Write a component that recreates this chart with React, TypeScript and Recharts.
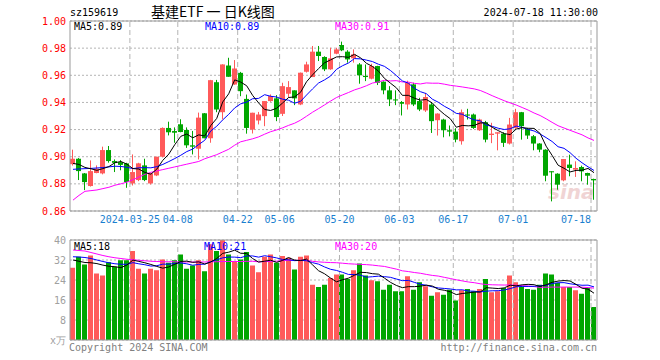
import React from 'react';
import { ComposedChart, Bar, Line, XAxis, YAxis, CartesianGrid, ReferenceLine } from 'recharts';

const dates = [
  '2024-03-11','2024-03-12','2024-03-13','2024-03-14','2024-03-15',
  '2024-03-18','2024-03-19','2024-03-20','2024-03-21','2024-03-22',
  '2024-03-25','2024-03-26','2024-03-27','2024-03-28','2024-03-29',
  '2024-04-01','2024-04-02','2024-04-03',
  '2024-04-08','2024-04-09','2024-04-10','2024-04-11','2024-04-12',
  '2024-04-15','2024-04-16','2024-04-17','2024-04-18','2024-04-19',
  '2024-04-22','2024-04-23','2024-04-24','2024-04-25','2024-04-26',
  '2024-04-29','2024-04-30',
  '2024-05-06','2024-05-07','2024-05-08','2024-05-09','2024-05-10',
  '2024-05-13','2024-05-14','2024-05-15','2024-05-16','2024-05-17',
  '2024-05-20','2024-05-21','2024-05-22','2024-05-23','2024-05-24',
  '2024-05-27','2024-05-28','2024-05-29','2024-05-30','2024-05-31',
  '2024-06-03','2024-06-04','2024-06-05','2024-06-06','2024-06-07',
  '2024-06-11','2024-06-12','2024-06-13','2024-06-14',
  '2024-06-17','2024-06-18','2024-06-19','2024-06-20','2024-06-21',
  '2024-06-24','2024-06-25','2024-06-26','2024-06-27','2024-06-28',
  '2024-07-01','2024-07-02','2024-07-03','2024-07-04','2024-07-05',
  '2024-07-08','2024-07-09','2024-07-10','2024-07-11','2024-07-12',
  '2024-07-15','2024-07-16','2024-07-17','2024-07-18',
];

const opens = [0.8945,0.8985,0.8877,0.8784,0.8880,0.8877,0.9049,0.8968,0.8960,0.8951,
  0.8803,0.8828,0.8936,0.8803,0.8862,0.9000,0.9212,0.9189,0.9239,0.9197,
  0.9084,0.9059,0.9320,0.9136,0.9549,0.9328,0.9672,0.9532,0.9618,0.9426,
  0.9200,0.9267,0.9299,0.9410,0.9430,0.9316,0.9464,0.9489,0.9385,0.9626,
  0.9587,0.9774,0.9735,0.9644,0.9759,0.9823,0.9774,0.9725,0.9680,0.9595,
  0.9575,0.9668,0.9553,0.9489,0.9422,0.9403,0.9385,0.9533,0.9410,0.9341,
  0.9385,0.9269,0.9274,0.9195,0.9185,0.9114,0.9311,0.9311,0.9195,0.9254,
  0.9160,0.9170,0.9170,0.9097,0.9212,0.9328,0.9205,0.9151,0.9097,0.9052,
  0.8893,0.8875,0.8826,0.8942,0.8905,0.8924,0.8880,0.8836];

const highs = [0.9052,0.8990,0.8880,0.8973,0.8936,0.9074,0.9079,0.8980,0.8975,0.8955,
  0.9017,0.8955,0.8985,0.8880,0.9000,0.9216,0.9258,0.9216,0.9276,0.9216,
  0.9190,0.9325,0.9322,0.9566,0.9566,0.9681,0.9729,0.9712,0.9625,0.9458,
  0.9324,0.9330,0.9410,0.9459,0.9454,0.9545,0.9557,0.9489,0.9620,0.9700,
  0.9816,0.9816,0.9740,0.9803,0.9803,0.9848,0.9785,0.9791,0.9690,0.9680,
  0.9685,0.9670,0.9555,0.9520,0.9489,0.9410,0.9560,0.9545,0.9434,0.9470,
  0.9397,0.9320,0.9280,0.9230,0.9210,0.9348,0.9353,0.9318,0.9280,0.9264,
  0.9250,0.9180,0.9180,0.9286,0.9353,0.9330,0.9210,0.9160,0.9100,0.9055,
  0.8893,0.8878,0.8983,0.9015,0.8966,0.8934,0.8882,0.8838];

const lows = [0.8935,0.8828,0.8754,0.8780,0.8878,0.8870,0.8956,0.8887,0.8900,0.8771,
  0.8788,0.8820,0.8820,0.8795,0.8857,0.8995,0.9157,0.9103,0.9180,0.9065,
  0.9017,0.8980,0.9136,0.9103,0.9328,0.9274,0.9589,0.9530,0.9446,0.9170,
  0.9171,0.9238,0.9225,0.9405,0.9262,0.9300,0.9434,0.9380,0.9380,0.9620,
  0.9587,0.9705,0.9631,0.9640,0.9755,0.9778,0.9693,0.9693,0.9538,0.9557,
  0.9570,0.9528,0.9460,0.9373,0.9380,0.9304,0.9348,0.9373,0.9336,0.9330,
  0.9175,0.9156,0.9143,0.9150,0.9106,0.9089,0.9274,0.9205,0.9190,0.9106,
  0.9100,0.9047,0.9072,0.9090,0.9205,0.9126,0.9131,0.9047,0.9033,0.8819,
  0.8671,0.8757,0.8819,0.8856,0.8851,0.8819,0.8794,0.8683];

const closes = [0.8985,0.8894,0.8813,0.8894,0.8912,0.9049,0.8968,0.8955,0.8940,0.8813,
  0.8887,0.8951,0.8828,0.8877,0.9000,0.9212,0.9180,0.9177,0.9182,0.9084,
  0.9074,0.9288,0.9136,0.9564,0.9348,0.9680,0.9589,0.9650,0.9483,0.9212,
  0.9324,0.9311,0.9410,0.9447,0.9292,0.9520,0.9513,0.9430,0.9619,0.9680,
  0.9774,0.9742,0.9644,0.9725,0.9791,0.9784,0.9717,0.9754,0.9600,0.9587,
  0.9668,0.9545,0.9489,0.9422,0.9415,0.9390,0.9545,0.9385,0.9348,0.9440,
  0.9262,0.9318,0.9195,0.9185,0.9126,0.9328,0.9303,0.9212,0.9274,0.9126,
  0.9170,0.9180,0.9102,0.9237,0.9328,0.9225,0.9156,0.9097,0.9052,0.8860,
  0.8885,0.8794,0.8983,0.8917,0.8917,0.8892,0.8860,0.8826];

// volume, in 万
const volumes = [28.9,33.3,30.2,33.8,26.6,25.8,31.1,29.3,31.9,31.9,
  35.6,28.5,26.6,28.5,27.9,32.2,30.9,31.9,34.2,28.5,
  29.8,31.9,27.5,38.3,35.6,40.0,34.2,31.5,32.2,35.2,
  29.8,27.1,33.3,34.2,30.9,33.6,32.9,28.2,33.3,33.8,
  22.1,21.2,22.1,24.8,26.2,26.2,24.4,27.9,30.6,25.8,
  23.9,23.5,20.1,22.1,19.5,19.5,25.5,20.1,23.1,21.5,
  17.7,19.1,18.1,20.1,15.8,19.9,20.4,19.5,20.4,24.4,
  19.1,19.5,20.8,25.8,23.1,21.2,20.4,20.1,22.1,26.6,
  26.2,22.8,21.2,21.2,19.9,18.5,20.8,13.2];

const ma5Lead = [0.8951,0.8943,0.8921,0.8911];
const ma10Lead = [0.8907,0.8910,0.8912,0.8914,0.8917,0.8920,0.8925,0.8930,0.8928];
const ma30Lead = [0.8680,0.8715,0.8745,0.8750,0.8755,0.8765,0.8775,0.8790,0.8800,0.8813,
  0.8830,0.8850,0.8870,0.8885,0.8895,0.8905,0.8915,0.8925,0.8935,0.8945,
  0.8955,0.8965,0.8985,0.9000,0.9015,0.9035,0.9055,0.9085,0.9110];
const vma5Lead = [32.0,31.5,31.0,30.9];
const vma10Lead = [33.3,33.2,33.0,32.6,32.0,31.4,30.9,30.5,30.3];
const vma30Lead = [36.0,35.8,35.6,35.0,34.4,33.8,33.3,32.9,32.6,32.3,
  32.1,31.9,31.7,31.5,31.4,31.3,31.3,31.3,31.2,31.2,
  31.2,31.2,31.2,31.3,31.3,31.4,31.4,31.4,31.4];

const priceTicks = [0.86,0.88,0.90,0.92,0.94,0.96,0.98,1.00];
const volTicks = [0,8,16,24,32,40];
const dateTicks = ['2024-03-25','2024-04-08','2024-04-22','2024-05-06','2024-05-20','2024-06-03','2024-06-17','2024-07-01','2024-07-18'];
const dateTickLabels = ['2024-03-25','04-08','04-22','05-06','05-20','06-03','06-17','07-01','07-18'];

const RED = '#ff5a5a';
const GREEN = '#00a600';
const FRAME = '#999999';
const GRID = '#b4b4b4';
const MONO = "'DejaVu Sans Mono', 'Liberation Mono', monospace";
const PLOT_W = 527;

function movingAvg(values: number[], n: number, lead: number[]) {
  return values.map((_, i) => {
    if (i < n - 1) return lead[i];
    let s = 0;
    for (let k = i - n + 1; k <= i; k++) s += values[k];
    return s / n;
  });
}

const ma5 = movingAvg(closes, 5, ma5Lead);
const ma10 = movingAvg(closes, 10, ma10Lead);
const ma30 = movingAvg(closes, 30, ma30Lead);
const vma5 = movingAvg(volumes, 5, vma5Lead);
const vma10 = movingAvg(volumes, 10, vma10Lead);
const vma30 = movingAvg(volumes, 30, vma30Lead);

const rows = dates.map((d, i) => ({
  d,
  o: opens[i], h: highs[i], l: lows[i], c: closes[i],
  range: [lows[i], highs[i]],
  ma5: ma5[i], ma10: ma10[i], ma30: ma30[i],
  vol: volumes[i], vma5: vma5[i], vma10: vma10[i], vma30: vma30[i],
}));

const last = rows.length - 1;

const Candle = (props: any) => {
  const { x, y, width, height, payload } = props;
  const { o, h, l, c } = payload;
  const color = c >= o ? RED : GREEN;
  const k = h === l ? 0 : height / (h - l);
  const top = y + (h - Math.max(o, c)) * k;
  const bot = y + (h - Math.min(o, c)) * k;
  const bx = Math.round(x);
  const cx = bx + Math.floor(width / 2) + 0.5;
  return (
    <g>
      <line x1={cx} x2={cx} y1={y} y2={y + height} stroke={color} strokeWidth={1} />
      <rect x={bx} y={top} width={Math.round(width)} height={Math.max(1, bot - top)} fill={color} />
    </g>
  );
};

const VolBar = (props: any) => {
  const { x, y, width, height, payload } = props;
  const color = payload.c >= payload.o ? RED : GREEN;
  return <rect x={Math.round(x)} y={y} width={Math.round(width)} height={height} fill={color} />;
};

const DateTick = (props: any) => {
  const { x, y, payload } = props;
  const idx = dateTicks.indexOf(payload.value);
  const isLast = idx === dateTicks.length - 1;
  const slot = PLOT_W / dates.length;
  return (
    <text x={x - slot / 2} y={y} dy="0.71em" textAnchor={isLast ? 'end' : 'middle'}
      fill="#1a7fcf" fontSize={10} fontFamily={MONO}>
      {dateTickLabels[idx]}
    </text>
  );
};

const txt = (s: React.CSSProperties): React.CSSProperties => ({
  position: 'absolute', fontFamily: MONO, fontSize: 10, lineHeight: '12px', whiteSpace: 'pre', ...s,
});

export default function App() {
  return (
    <div style={{ position: 'absolute', left: 0, top: 0, width: 660, height: 360, background: '#fff', overflow: 'hidden' }}>
      <div style={txt({ left: 548, top: 180, fontSize: 20, fontStyle: 'italic', fontWeight: 'bold', color: '#f0d4d4', fontFamily: "'DejaVu Sans', sans-serif", lineHeight: '24px' })}>sina</div>
      <div style={{ position: 'absolute', left: 0, top: 0 }}>
        <ComposedChart width={660} height={240} data={rows} margin={{ top: 21, right: 63, bottom: 0, left: 0 }}>
          <CartesianGrid vertical={false} stroke={GRID} strokeDasharray="2 2" />
          <XAxis dataKey="d" ticks={dateTicks} interval={0} tickLine={false} tickSize={0} tickMargin={5}
            height={29} axisLine={{ stroke: FRAME }} tick={<DateTick />} />
          <YAxis domain={[0.86, 1.0]} ticks={priceTicks} width={70} tickLine={false} tickSize={0} tickMargin={4}
            axisLine={{ stroke: FRAME }} tickFormatter={(v: number) => v.toFixed(2)}
            tick={{ fill: '#ff0000', fontSize: 10, fontFamily: MONO }} interval={0} />
          {dateTicks.map((d) => (
            <ReferenceLine key={d} x={d} position="start" stroke={GRID} strokeDasharray="5 3" />
          ))}
          <ReferenceLine y={1.0} stroke={FRAME} />
          <ReferenceLine x={dates[last]} position="end" stroke={FRAME} />
          <Bar dataKey="range" barSize={5} shape={<Candle />} isAnimationActive={false} />
          <Line dataKey="ma30" stroke="#ff00ff" strokeWidth={1} dot={false} isAnimationActive={false} />
          <Line dataKey="ma10" stroke="#0000ff" strokeWidth={1} dot={false} isAnimationActive={false} />
          <Line dataKey="ma5" stroke="#000000" strokeWidth={1} dot={false} isAnimationActive={false} />
        </ComposedChart>
      </div>
      <div style={{ position: 'absolute', left: 0, top: 230 }}>
        <ComposedChart width={660} height={130} data={rows} margin={{ top: 10, right: 63, bottom: 20, left: 0 }}>
          <CartesianGrid vertical={false} stroke={GRID} strokeDasharray="2 2" />
          <XAxis dataKey="d" hide />
          <YAxis domain={[0, 40]} ticks={volTicks} width={70} tickLine={false} tickSize={0} tickMargin={4}
            axisLine={{ stroke: FRAME }} interval={0}
            tickFormatter={(v: number) => (v === 0 ? 'x万' : String(v))}
            tick={{ fill: '#a0a0a0', fontSize: 10, fontFamily: MONO }} />
          {dateTicks.map((d) => (
            <ReferenceLine key={d} x={d} position="start" stroke={GRID} strokeDasharray="5 3" />
          ))}
          <ReferenceLine y={40} stroke={FRAME} />
          <ReferenceLine y={0} stroke={FRAME} />
          <ReferenceLine x={dates[last]} position="end" stroke={FRAME} />
          <Bar dataKey="vol" barSize={5} shape={<VolBar />} isAnimationActive={false} />
          <Line dataKey="vma30" stroke="#ff00ff" strokeWidth={1} dot={false} isAnimationActive={false} />
          <Line dataKey="vma10" stroke="#0000ff" strokeWidth={1} dot={false} isAnimationActive={false} />
          <Line dataKey="vma5" stroke="#000000" strokeWidth={1} dot={false} isAnimationActive={false} />
        </ComposedChart>
      </div>

      <div style={txt({ left: 70, top: 7, color: '#000' })}>sz159619</div>
      <div style={txt({ left: 151, top: 3, fontSize: 14, lineHeight: '16px', color: '#000', fontFamily: "'Noto Sans CJK SC', sans-serif" })}>基建ETF 一 日K线图</div>
      <div style={txt({ right: 62, top: 7, color: '#000' })}>2024-07-18 11:30:00</div>

      <div style={txt({ left: 74, top: 21, color: '#000' })}>MA5:{ma5[last].toFixed(2)}</div>
      <div style={txt({ left: 205, top: 21, color: '#0000ff' })}>MA10:{ma10[last].toFixed(2)}</div>
      <div style={txt({ left: 335, top: 21, color: '#ff00ff' })}>MA30:{ma30[last].toFixed(2)}</div>

      <div style={txt({ left: 74, top: 241, color: '#000' })}>MA5:{Math.floor(vma5[last])}</div>
      <div style={txt({ left: 204, top: 241, color: '#0000ff' })}>MA10:{Math.floor(vma10[last])}</div>
      <div style={txt({ left: 335, top: 241, color: '#ff00ff' })}>MA30:{Math.floor(vma30[last])}</div>

      <div style={txt({ left: 69, top: 342, color: '#808080' })}>Copyright 2024 SINA.COM</div>
      <div style={txt({ right: 63, top: 342, color: '#808080' })}>http://finance.sina.com.cn</div>
    </div>
  );
}
